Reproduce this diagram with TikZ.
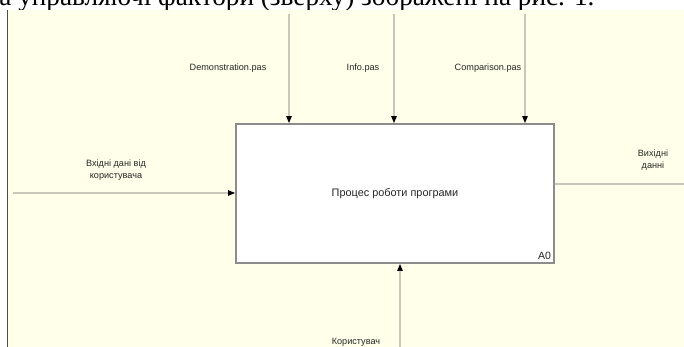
\documentclass[tikz,border=0pt]{standalone}
\usepackage{fontspec}
\setmainfont{Liberation Sans}
\newfontfamily\docserif{Liberation Serif}
\usetikzlibrary{arrows.meta,positioning}
\definecolor{idefbg}{RGB}{255,255,234}
\definecolor{idefline}{RGB}{200,200,186}
\definecolor{idefframe}{RGB}{140,140,140}

\begin{document}
\begin{tikzpicture}[
    x=0.02cm, y=-0.02cm,
    func/.style={rectangle, draw=idefframe, fill=white, line width=0.9pt, minimum width=6.36cm, minimum height=2.78cm, inner sep=0pt, font=\fontsize{6.2}{7.5}\selectfont, text=black!85},
    lbl/.style={font=\fontsize{5.2}{7.1}\selectfont, align=center, inner sep=0pt, text=black!85},
    arc/.style={draw=idefline, line width=0.85pt},
    flow/.style={arc, -{Triangle[length=4pt, width=3pt, color=black]}}
]
    \useasboundingbox (0,0) rectangle (684,347);

    % Caption line of the page, cut off
    \begin{scope}
        \clip (0,0) rectangle (684,10);
        \node[anchor=base west, inner sep=0pt, font=\docserif\fontsize{15.5}{18}\selectfont] (caption) at (-1,6) {а управляючі фактори (зверху) зображені на рис. 1.};
    \end{scope}

    % Diagram sheet
    \fill[idefbg] (7,10) rectangle (684,347);
    \draw[black!70, line width=0.8pt] (7.5,10) -- (7.5,347);

    % Function block
    \node[func] (proc) at (395,193.5) {Процес роботи програми};
    \node[lbl, font=\fontsize{6}{7}\selectfont, anchor=south east, inner sep=2pt] (a0) at (proc.south east) {A0};

    % Control arrows
    \coordinate (ctlDemo) at (289,14);
    \coordinate (ctlInfo) at (394,14);
    \coordinate (ctlComp) at (525,14);
    \node[lbl] (demoLbl) at (228,68) {Demonstration.pas};
    \node[lbl] (infoLbl) at (363,68) {Info.pas};
    \node[lbl] (compLbl) at (488,68) {Comparison.pas};
    \path[flow] (ctlDemo) -- (ctlDemo |- proc.north);
    \path[flow] (ctlInfo) -- (ctlInfo |- proc.north);
    \path[flow] (ctlComp) -- (ctlComp |- proc.north);

    % Input
    \coordinate (inData) at (13,193);
    \node[lbl] (inLbl) at (116,170) {Вхідні дані від\\користувача};
    \path[flow] (inData) -- (inData -| proc.west);

    % Output
    \coordinate (outData) at (684,184);
    \node[lbl] (outLbl) at (653,160) {Вихідні\\данні};
    \path[arc] (proc.east |- outData) -- (outData);

    % Mechanism
    \coordinate (mechUser) at (400,347);
    \node[lbl] (userLbl) at (356,342) {Користувач};
    \path[flow] (mechUser) -- (mechUser |- proc.south);
\end{tikzpicture}
\end{document}
